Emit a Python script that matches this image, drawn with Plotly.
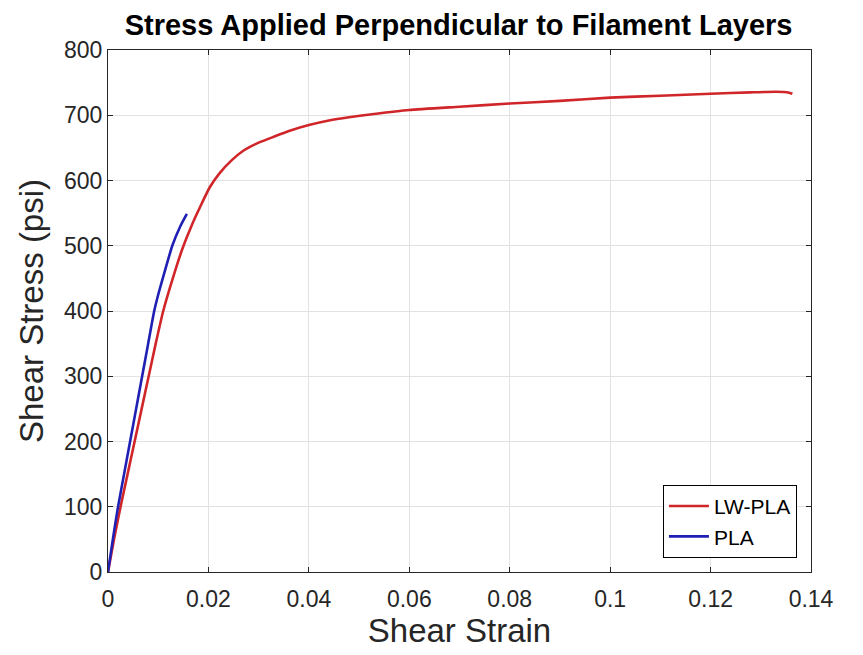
import plotly.graph_objects as go

# LW-PLA (red) curve
lw_strain = [0, 0.0012, 0.0025, 0.0039, 0.0053, 0.0067, 0.0081, 0.0095, 0.0110, 0.0129,
             0.0148, 0.0166, 0.0185, 0.0203, 0.0222, 0.0245, 0.0270, 0.0300, 0.0330, 0.0365,
             0.0400, 0.0440, 0.0480, 0.0530, 0.060, 0.070, 0.080, 0.090,
             0.100, 0.110, 0.120, 0.128, 0.133, 0.1355, 0.1363]
lw_stress = [0, 50, 100, 150, 200, 250, 300, 350, 400, 450,
             495, 530, 562, 590, 611, 630, 646, 658, 667, 677,
             685, 692, 697, 702, 708, 713, 718, 722,
             727, 730, 733, 735, 736, 735, 733]

# PLA (blue) curve
pla_strain = [0, 0.0010, 0.0020, 0.0032, 0.0044, 0.0056, 0.0068, 0.0080, 0.0092, 0.0101,
              0.0112, 0.0128, 0.0144, 0.0157]
pla_stress = [0, 52, 100, 150, 200, 250, 300, 350, 400, 428,
              458, 500, 530, 549]

x_ticks = [0, 0.02, 0.04, 0.06, 0.08, 0.1, 0.12, 0.14]
x_tick_text = ["0", "0.02", "0.04", "0.06", "0.08", "0.1", "0.12", "0.14"]
y_ticks = [0, 100, 200, 300, 400, 500, 600, 700, 800]

FONT = "Liberation Sans, Arial, Helvetica, sans-serif"
AX = "#262626"

fig = go.Figure()
fig.add_trace(go.Scatter(x=lw_strain, y=lw_stress, mode="lines", name="LW-PLA",
                         line=dict(color="#d0262a", width=2.6, shape="spline", smoothing=0.5)))
fig.add_trace(go.Scatter(x=pla_strain, y=pla_stress, mode="lines", name="PLA",
                         line=dict(color="#1f1fb4", width=2.6, shape="spline", smoothing=0.5)))

axis_common = dict(showline=True, linecolor=AX, linewidth=1, mirror="ticks",
                   ticks="inside", ticklen=5, tickcolor=AX,
                   showgrid=True, gridcolor="#e2e2e2", gridwidth=1,
                   zeroline=False, tickfont=dict(family=FONT, size=23, color=AX))

# The page body adds an 8px offset, so the figure is sized to sit in the window.
fig.update_layout(
    width=855, height=647,
    margin=dict(l=100, r=52, t=42, b=83),
    paper_bgcolor="white", plot_bgcolor="white",
    title=dict(text="<b>Stress Applied Perpendicular to Filament Layers</b>",
               font=dict(family=FONT, size=29, color="black"),
               x=0.527, xanchor="center", y=0.9737, yanchor="middle"),
    xaxis=dict(range=[0, 0.14], tickvals=x_ticks, ticktext=x_tick_text,
               ticklabelstandoff=6,
               title=dict(text="Shear Strain", font=dict(family=FONT, size=33, color=AX), standoff=8),
               **axis_common),
    yaxis=dict(range=[0, 800], tickvals=y_ticks,
               title=dict(text="Shear Stress (psi)", font=dict(family=FONT, size=33, color=AX), standoff=10),
               **axis_common),
    legend=dict(x=0.980, y=0.027, xanchor="right", yanchor="bottom",
                bgcolor="white", bordercolor="black", borderwidth=1,
                font=dict(family=FONT, size=21, color="black"),
                itemwidth=40, tracegroupgap=0),
    showlegend=True,
)

fig.write_html("out.html")
